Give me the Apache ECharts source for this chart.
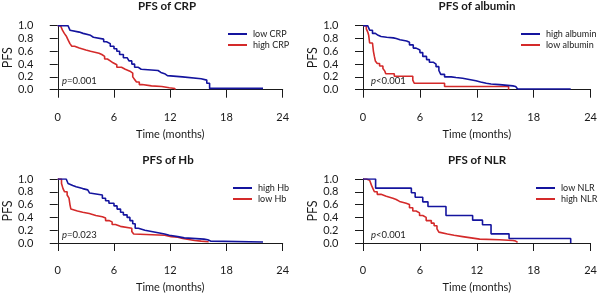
<!DOCTYPE html>
<html>
<head>
<meta charset="utf-8">
<script src="https://cdn.jsdelivr.net/npm/echarts@6/dist/echarts.min.js"></script>
<style>
html, body { margin: 0; padding: 0; background: #fff; }
#chart { width: 600px; height: 296px; }
</style>
</head>
<body>
<div id="chart"></div>
<script>
// tick labels
const xTicks = [0, 6, 12, 18, 24];
const yTicks = [0, 0.2, 0.4, 0.6, 0.8, 1.0];

const panelTitles = ['PFS of CRP', 'PFS of albumin', 'PFS of Hb', 'PFS of NLR'];
const groupNames = [['low CRP', 'high CRP'], ['high albumin', 'low albumin'], ['high Hb', 'low Hb'], ['low NLR', 'high NLR']];
const pTexts = ['=0.001', '<0.001', '=0.023', '<0.001'];

// Kaplan-Meier steps, time (months) / survival
const crpLowT = [0, 1.1, 1.3, 1.45, 2.3, 2.7, 3.5, 3.8, 4.9, 5.2, 5.6, 6.0, 6.3, 6.6, 7.0, 7.4, 7.6, 7.9, 8.2, 8.6, 8.9, 10.7, 11.0, 11.4, 11.7, 13.3, 15.3, 15.9, 16.2, 21.9];
const crpLowS = [1, 0.97, 0.93, 0.9, 0.88, 0.85, 0.82, 0.79, 0.75, 0.72, 0.68, 0.64, 0.6, 0.55, 0.5, 0.47, 0.45, 0.4, 0.35, 0.32, 0.3, 0.27, 0.25, 0.22, 0.2, 0.17, 0.15, 0.1, 0.02, 0.02];
const crpHighT = [0, 0.3, 0.5, 0.7, 0.9, 1.1, 1.3, 1.5, 1.8, 2.3, 3.0, 3.5, 4.4, 4.7, 5.0, 5.3, 5.6, 5.9, 6.3, 6.8, 7.2, 7.7, 8.0, 8.2, 8.4, 8.7, 9.0, 10.0, 11.1, 11.9, 12.5];
const crpHighS = [1, 0.97, 0.93, 0.88, 0.84, 0.78, 0.72, 0.68, 0.65, 0.62, 0.6, 0.57, 0.55, 0.52, 0.48, 0.45, 0.42, 0.39, 0.35, 0.32, 0.29, 0.26, 0.2, 0.16, 0.12, 0.08, 0.06, 0.05, 0.03, 0.02, 0.0];

const albHighT = [0, 0.5, 0.7, 1.0, 1.3, 1.6, 1.9, 2.5, 3.2, 3.5, 3.9, 4.6, 4.9, 5.3, 5.6, 6.0, 6.3, 6.7, 7.0, 7.4, 7.7, 8.0, 8.2, 8.6, 9.3, 9.8, 10.5, 11.2, 11.9, 12.4, 13.0, 13.5, 14.4, 15.8, 16.1, 16.3, 21.9];
const albHighS = [1, 0.97, 0.93, 0.88, 0.85, 0.83, 0.82, 0.81, 0.8, 0.78, 0.76, 0.74, 0.7, 0.65, 0.62, 0.58, 0.52, 0.47, 0.43, 0.4, 0.36, 0.3, 0.24, 0.2, 0.19, 0.18, 0.16, 0.14, 0.12, 0.1, 0.09, 0.08, 0.06, 0.05, 0.03, 0.01, 0.01];
const albLowT = [0, 0.35, 0.5, 0.6, 0.7, 1.0, 1.1, 1.2, 1.3, 1.5, 1.75, 2.1, 2.3, 2.4, 3.3, 5.25, 5.4, 8.6, 15.35];
const albLowS = [1, 0.95, 0.9, 0.85, 0.73, 0.7, 0.6, 0.52, 0.45, 0.41, 0.37, 0.33, 0.29, 0.25, 0.21, 0.15, 0.1, 0.05, 0.0];

const hbHighT = [0, 0.9, 1.1, 1.26, 1.6, 1.96, 2.66, 3.2, 3.4, 3.5, 4.76, 5.1, 5.46, 6.0, 6.33, 6.7, 7.0, 7.4, 7.7, 8.0, 8.26, 8.6, 9.3, 10.0, 10.7, 11.4, 11.9, 12.8, 13.5, 15.6, 16.0, 16.3, 21.9];
const hbHighS = [1, 0.97, 0.93, 0.9, 0.88, 0.85, 0.83, 0.8, 0.78, 0.75, 0.7, 0.66, 0.62, 0.58, 0.53, 0.48, 0.44, 0.4, 0.35, 0.3, 0.23, 0.2, 0.18, 0.16, 0.14, 0.12, 0.1, 0.08, 0.06, 0.05, 0.03, 0.015, 0.015];
const hbLowT = [0, 0.4, 0.56, 0.73, 1.0, 1.2, 1.3, 1.4, 1.6, 2.1, 2.66, 3.36, 4.06, 4.76, 5.1, 5.46, 5.8, 6.16, 6.68, 7.9, 8.1, 8.26, 11.4, 12.1, 12.8, 13.33, 14.6, 15.3, 16.1];
const hbLowS = [1, 0.93, 0.85, 0.8, 0.75, 0.7, 0.6, 0.53, 0.5, 0.48, 0.46, 0.43, 0.41, 0.39, 0.35, 0.33, 0.29, 0.26, 0.23, 0.18, 0.14, 0.12, 0.1, 0.09, 0.07, 0.04, 0.03, 0.02, 0.01];

const nlrLowT = [0, 1.33, 5.1, 5.5, 6.3, 6.85, 8.75, 11.56, 12.6, 13.5, 15.4, 21.9];
const nlrLowS = [1, 0.857, 0.786, 0.714, 0.643, 0.571, 0.429, 0.357, 0.286, 0.143, 0.071, 0];
const nlrHighT = [0, 0.35, 0.7, 0.9, 1.05, 1.2, 1.5, 1.9, 2.45, 3.15, 3.5, 3.85, 4.55, 4.9, 5.25, 5.6, 5.96, 6.3, 6.66, 7.2, 7.5, 7.8, 8.0, 8.2, 8.9, 9.6, 10.5, 11.4, 12.3, 14.4, 15.8, 16.1, 16.3];
const nlrHighS = [1, 0.98, 0.95, 0.9, 0.85, 0.8, 0.76, 0.73, 0.7, 0.68, 0.65, 0.62, 0.6, 0.55, 0.5, 0.47, 0.43, 0.4, 0.35, 0.31, 0.27, 0.22, 0.17, 0.14, 0.12, 0.1, 0.08, 0.06, 0.05, 0.04, 0.03, 0.01, 0.0];

const curves = [
    [[crpLowT, crpLowS], [crpHighT, crpHighS]],
    [[albHighT, albHighS], [albLowT, albLowS]],
    [[hbHighT, hbHighS], [hbLowT, hbLowS]],
    [[nlrLowT, nlrLowS], [nlrHighT, nlrHighS]]
];

const colors = ['#14149e', '#d42a2a'];
const font = 'Lato, "Open Sans", sans-serif';
const ink = '#1a1a1a';

// panel placement (pixels)
const layout = [
    { left: 54.7, top: 25.7, width: 228, xOff: 11.5, legendLeft: 228, legendTop: 28.5, pLeft: 62, pTop: 76, titleX: 167, titleTop: 0 },
    { left: 363, top: 25.7, width: 228.7, xOff: 11.5, legendLeft: 521, legendTop: 28.5, pLeft: 371, pTop: 76, titleX: 477, titleTop: 0 },
    { left: 54.7, top: 179, width: 228, xOff: 11, legendLeft: 233, legendTop: 182.5, pLeft: 62, pTop: 230, titleX: 168, titleTop: 154 },
    { left: 363, top: 179, width: 228.7, xOff: 11, legendLeft: 536, legendTop: 182.5, pLeft: 371, pTop: 230, titleX: 477, titleTop: 154 }
];

const chart = echarts.init(document.getElementById('chart'), null, { renderer: 'canvas' });

const grid = [], xAxis = [], yAxis = [], series = [], legend = [], title = [];

layout.forEach((p, i) => {
    grid.push({ left: p.left, top: p.top, width: p.width, height: 64 });
    xAxis.push({
        type: 'value', gridIndex: i,
        min: xTicks[0], max: xTicks[xTicks.length - 1], interval: xTicks[1] - xTicks[0],
        offset: p.xOff,
        name: 'Time (months)', nameLocation: 'middle', nameGap: 28,
        nameTextStyle: { fontFamily: font, fontSize: 11, color: ink },
        axisLine: { lineStyle: { color: ink, width: 1 } },
        axisTick: { length: 8, lineStyle: { color: ink } },
        axisLabel: { fontFamily: font, fontSize: 11, color: ink, margin: 11 },
        splitLine: { show: false }
    });
    yAxis.push({
        type: 'value', gridIndex: i,
        min: yTicks[0], max: yTicks[yTicks.length - 1], interval: yTicks[1] - yTicks[0],
        offset: 9.5,
        name: 'PFS', nameLocation: 'middle', nameGap: 32, nameRotate: 90,
        nameTextStyle: { fontFamily: font, fontSize: 12.5, color: ink },
        axisLine: { show: true, lineStyle: { color: ink, width: 1 } },
        axisTick: { show: true, length: 8, lineStyle: { color: ink } },
        axisLabel: { fontFamily: font, fontSize: 11, color: ink, margin: 15, formatter: v => v.toFixed(1) },
        splitLine: { show: false }
    });
    curves[i].forEach((c, k) => {
        series.push({
            name: groupNames[i][k],
            type: 'line', step: 'end',
            xAxisIndex: i, yAxisIndex: i,
            showSymbol: false, symbol: 'none',
            lineStyle: { color: colors[k], width: 1.6 },
            itemStyle: { color: colors[k] },
            data: c[0].map((t, j) => [t, c[1][j]]),
            z: 3 - k
        });
    });
    legend.push({
        data: groupNames[i], orient: 'vertical',
        left: p.legendLeft, top: p.legendTop, padding: 0, itemGap: 0,
        icon: 'rect', itemWidth: 19, itemHeight: 2,
        textStyle: { fontFamily: font, fontSize: 9, color: ink, lineHeight: 11, padding: [0, 0, 0, 1] }
    });
    title.push({
        text: panelTitles[i], left: p.titleX, top: p.titleTop, textAlign: 'center', padding: 0,
        textStyle: { fontFamily: font, fontSize: 11.5, fontWeight: 'bold', color: ink }
    });
    title.push({
        text: '{i|p}' + pTexts[i], left: p.pLeft, top: p.pTop, padding: 0,
        textStyle: {
            fontFamily: font, fontSize: 9.5, fontWeight: 'normal', color: ink,
            rich: { i: { fontFamily: font, fontSize: 9.5, fontStyle: 'italic', color: ink } }
        }
    });
});

chart.setOption({
    animation: false,
    backgroundColor: '#fff',
    title: title,
    legend: legend,
    grid: grid,
    xAxis: xAxis,
    yAxis: yAxis,
    series: series
});
</script>
</body>
</html>
